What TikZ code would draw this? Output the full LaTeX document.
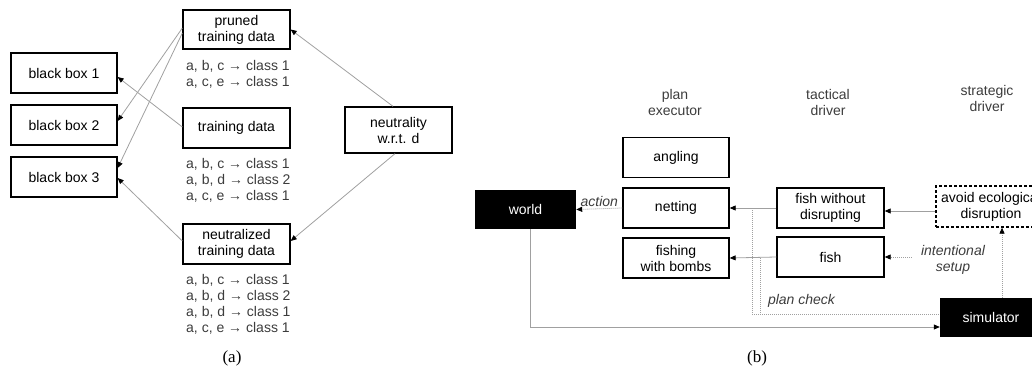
\documentclass[tikz,border=0pt]{standalone}
\usepackage{fontspec}
\setmainfont{Liberation Sans}
\newfontfamily\capfont{Liberation Serif}
\usetikzlibrary{arrows.meta}
\definecolor{linegray}{HTML}{A0A0A0}
\definecolor{txtgray}{HTML}{3C3C3C}
\begin{document}
\begin{tikzpicture}[x=1pt,y=-1pt,
  every node/.style={font=\fontsize{14}{16}\selectfont},
  box/.style={draw, line width=1.3pt, minimum width=107pt, minimum height=40pt, align=center, inner sep=2pt},
  blk/.style={fill=black, text=white, minimum width=101pt, minimum height=39pt, align=center, inner sep=2pt},
  conn/.style={draw=linegray, line width=0.8pt, -{Triangle[length=6pt,width=5pt,black]}},
  dotline/.style={draw=linegray, line width=0.8pt, dash pattern=on 1pt off 1pt},
  dotconn/.style={dotline, -{Triangle[length=6pt,width=5pt,black]}},
  list/.style={text=txtgray, align=left, anchor=base west, inner sep=0pt},
  lab/.style={text=txtgray, align=center},
  ilab/.style={text=txtgray, align=center, font=\itshape\fontsize{14}{16}\selectfont},
  captext/.style={font=\capfont\fontsize{17}{20}\selectfont}
]
\useasboundingbox (0,0) rectangle (1032,369);

% ---------- panel (a) ----------
\node[box, minimum height=39pt] (pr) at (236.5,29.5) {pruned\\training data};
\node[box] (td) at (236.5,128) {training data};
\node[box] (neu) at (236.5,244) {neutralized\\training data};
\node[box, minimum height=46pt] (ntr) at (398.5,130) {neutrality\\w.r.t. d};
\node[box, minimum width=106pt] (bb1) at (64,73) {black box 1};
\node[box, minimum width=106pt] (bb2) at (64,125) {black box 2};
\node[box, minimum width=106pt] (bb3) at (64,177) {black box 3};

% base anchor = baseline of the last line
\node[list] (lpr) at (186,86) {a, b, c → class 1\\a, c, e → class 1};
\node[list] (ltd) at (186,200) {a, b, c → class 1\\a, b, d → class 2\\a, c, e → class 1};
\node[list] (lneu) at (186,332) {a, b, c → class 1\\a, b, d → class 2\\a, b, d → class 1\\a, c, e → class 1};

\draw[conn] ([yshift=1pt]td.west) -- ([yshift=-4pt]bb1.east);
\draw[conn] ([yshift=1.5pt]pr.west) -- ([yshift=4pt]bb2.east);
\draw[conn] ([yshift=-3.5pt]pr.west) -- ([yshift=9pt]bb3.east);
\draw[conn] ([yshift=3pt]neu.west) -- ([yshift=-1pt]bb3.east);
\draw[conn] ([xshift=-5.5pt]ntr.north) -- (pr.east);
\draw[conn] ([xshift=-3.5pt]ntr.south) -- ([yshift=3pt]neu.east);

\node[captext] (capa) at (232,358) {(a)};

% ---------- panel (b) ----------
\node[lab] (tpe) at (675,102.5) {plan\\executor};
\node[lab] (ttd) at (828,102.5) {tactical\\driver};
\node[lab] (tsd) at (987,98.5) {strategic\\driver};

\node[box, minimum width=106pt] (ang) at (676,157.5) {angling};
\node[box, minimum width=106pt] (net) at (676,208) {netting};
\node[box, minimum width=106pt] (fwb) at (676,258) {fishing\\with bombs};
\node[blk] (world) at (525.5,209.5) {world};
\node[box] (fwd) at (830.5,208) {fish without\\disrupting};
\node[box] (fish) at (830.5,257) {fish};
\node[box, dashed, dash pattern=on 3pt off 2pt, minimum width=110pt, minimum height=41pt] (avoid) at (991,206.5) {avoid ecological\\disruption};
\node[blk, minimum width=102pt] (sim) at (991,317.5) {simulator};

\node[ilab] (is) at (953,260) {intentional\\setup};
\node[ilab] (pc) at (801.5,301) {plan check};

\draw[dotconn] (net.west) -- (world.east) node[midway, above, ilab, inner sep=2pt] (act) {action};
\draw[conn] (fwd.west) -- (net.east);
\draw[conn] (fish.west) -- (fwb.east);
\draw[conn] ([yshift=-4.5pt]avoid.west) -- ([yshift=-4.5pt]avoid.west -| fwd.east);
\draw[dotconn] ([xshift=-6pt]is.west |- fish.east) -- (fish.east);

\coordinate (sx) at (1002,0);
\draw[dotconn] (sx |- sim.north) -- (sx |- avoid.south);

\draw[conn] ([xshift=4.5pt]world.south) |- ([yshift=-9.5pt]sim.west);

\coordinate (p1) at (752,0);
\coordinate (p2) at (760,0);
\coordinate (py) at (0,314);
\draw[dotline] (p1 |- net.east) |- ([yshift=3.5pt]sim.west);
\draw[dotline] (p2 |- fwb.east) -- (p2 |- py);

\node[captext] (capb) at (757,358) {(b)};
\end{tikzpicture}
\end{document}
